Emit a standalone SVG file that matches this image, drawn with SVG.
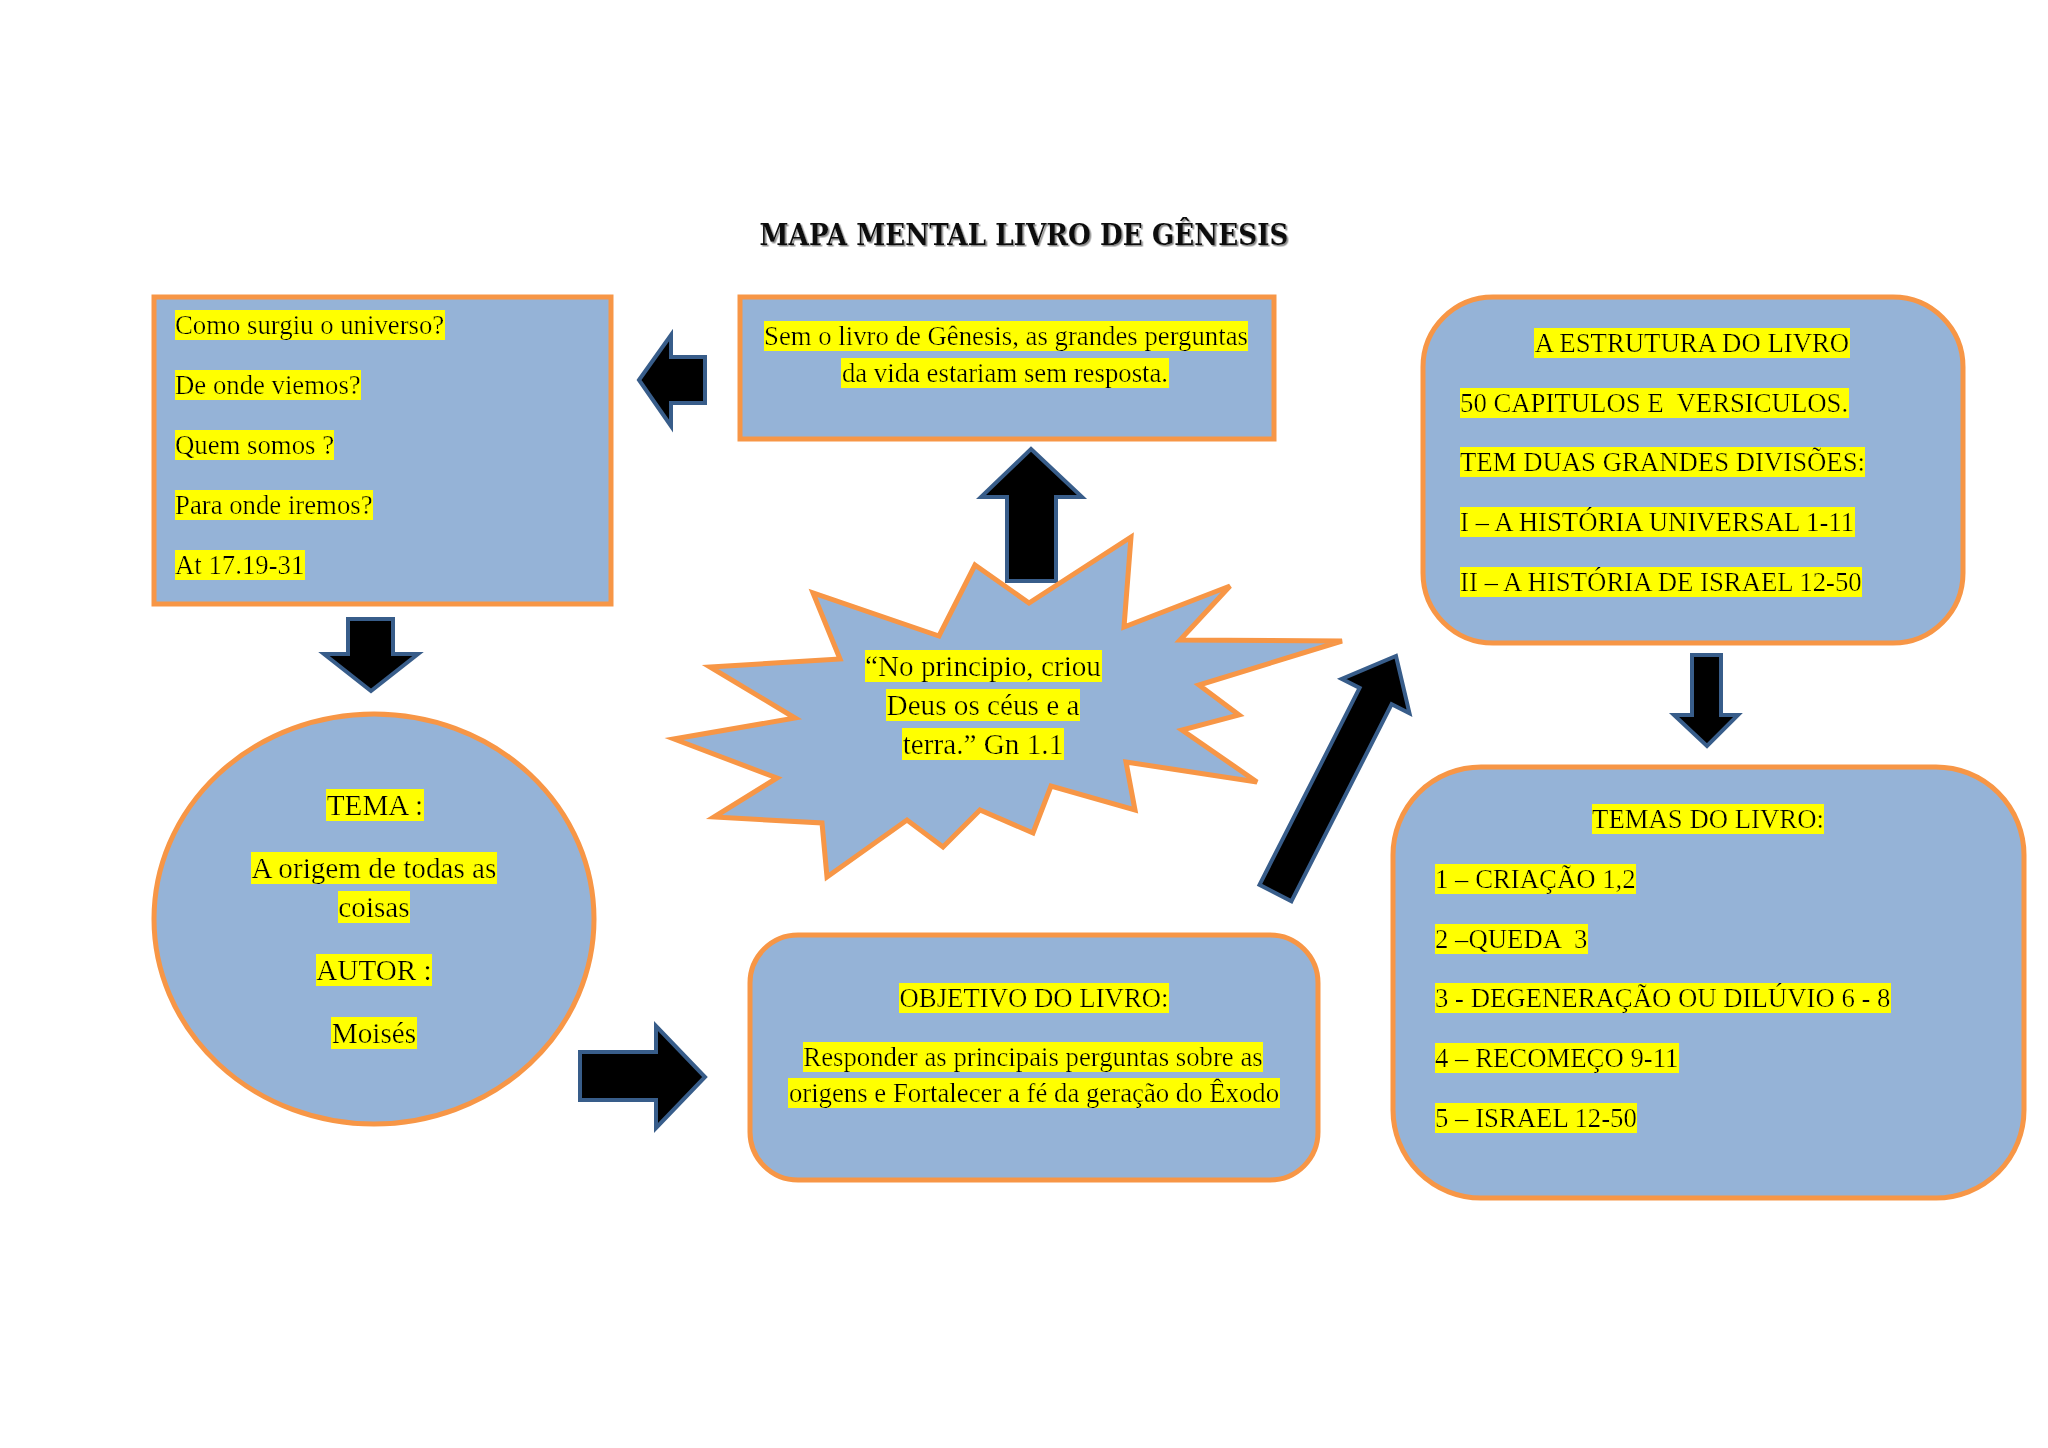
<svg xmlns="http://www.w3.org/2000/svg" width="2048" height="1448" viewBox="0 0 2048 1448">
<defs>
<style>
.node{fill:#95B3D7;stroke:#F79646;stroke-width:5}
.arrow{fill:#000;stroke:#385D8A;stroke-width:4;stroke-linejoin:miter}
.t{font-family:"Liberation Serif","Times New Roman",serif;font-size:26.75px;fill:#000;white-space:pre;filter:url(#hl)}
.b{font-size:29.2px}
.c{text-anchor:middle}
.title{font-family:"DejaVu Serif","Liberation Serif",serif;font-weight:bold;font-size:30px;fill:#111;filter:url(#sh)}
</style>
<filter id="hl" x="0" y="0" width="1" height="1"><feFlood flood-color="#FFFF00"/><feMerge><feMergeNode/><feMergeNode in="SourceGraphic"/></feMerge></filter>
<filter id="sh" x="-5%" y="-20%" width="110%" height="150%"><feDropShadow dx="1.5" dy="1.5" stdDeviation="0.6" flood-color="#8a8a8a"/></filter>
</defs>
<rect width="2048" height="1448" fill="#ffffff"/>
<text class="title" x="1024" y="245" text-anchor="middle" textLength="529" lengthAdjust="spacingAndGlyphs">MAPA MENTAL LIVRO DE GÊNESIS</text>

<g id="connectors">
<polygon id="arrow-left" class="arrow" points="639,380 671,335 671,357 705,357 705,403 671,403 671,426"/>
<polygon id="arrow-up" class="arrow" points="1031,449 1082,497 1056,497 1056,581 1007,581 1007,497 981,497"/>
<polygon id="arrow-down-left" class="arrow" points="348,619 393,619 393,654 418,654 371,691 324,654 348,654"/>
<polygon id="arrow-right" class="arrow" points="580,1052 656,1052 656,1026 705,1077 656,1128 656,1100 580,1100"/>
<polygon id="arrow-down-right" class="arrow" points="1692,655 1721,655 1721,715 1738,715 1707,746 1674,715 1692,715"/>
<polygon id="arrow-diagonal" class="arrow" points="1291.5,901.2 1391.6,704.3 1409.5,713.3 1396,656 1341.7,678.9 1359.6,688 1259.5,884.8"/>
</g>

<g id="box-perguntas">
<rect class="node" x="154" y="297" width="457" height="307"/>
<text class="t" x="175" y="334">Como surgiu o universo?</text>
<text class="t" x="175" y="394">De onde viemos?</text>
<text class="t" x="175" y="454">Quem somos ?</text>
<text class="t" x="175" y="514">Para onde iremos?</text>
<text class="t" x="175" y="574">At 17.19-31</text>
</g>

<g id="box-sem-genesis">
<rect class="node" x="740" y="297" width="534" height="142"/>
<text class="t c" x="1006" y="345">Sem o livro de Gênesis, as grandes perguntas</text>
<text class="t c" x="1005" y="382">da vida estariam sem resposta.</text>
</g>

<g id="box-estrutura">
<rect class="node" x="1423" y="297" width="540" height="346" rx="70" ry="70"/>
<text class="t c" x="1692" y="352">A ESTRUTURA DO LIVRO</text>
<text class="t" x="1460" y="412">50 CAPITULOS E  VERSICULOS.</text>
<text class="t" x="1460" y="471">TEM DUAS GRANDES DIVISÕES:</text>
<text class="t" x="1460" y="531">I – A HISTÓRIA UNIVERSAL 1-11</text>
<text class="t" x="1460" y="591">II – A HISTÓRIA DE ISRAEL 12-50</text>
</g>

<g id="star-quote">
<polygon class="node" points="975,565 1029,603 1131,537 1124,627 1230,586 1180,640 1342,641 1199,685 1239,715 1182,730 1257,782 1126,762 1135,810 1051,786 1033,833 980,810 943,847 907,820 827,877 822,823 714,817 777,778 674,739 795,718 710,667 840,659 813,593 939,636"/>
<text class="t b c" x="983" y="676">“No principio, criou</text>
<text class="t b c" x="983" y="715">Deus os céus e a</text>
<text class="t b c" x="983" y="754">terra.” Gn 1.1</text>
</g>

<g id="ellipse-tema">
<ellipse class="node" cx="374" cy="919" rx="220" ry="205"/>
<text class="t b c" x="375" y="815">TEMA :</text>
<text class="t b c" x="374" y="878">A origem de todas as</text>
<text class="t b c" x="374" y="917">coisas</text>
<text class="t b c" x="374" y="980">AUTOR :</text>
<text class="t b c" x="374" y="1043">Moisés</text>
</g>

<g id="box-objetivo">
<rect class="node" x="750" y="935" width="568" height="245" rx="48" ry="48"/>
<text class="t c" x="1034" y="1007">OBJETIVO DO LIVRO:</text>
<text class="t c" x="1033" y="1066">Responder as principais perguntas sobre as</text>
<text class="t c" x="1034" y="1102">origens e Fortalecer a fé da geração do Êxodo</text>
</g>

<g id="box-temas">
<rect class="node" x="1393" y="767" width="631" height="431" rx="88" ry="88"/>
<text class="t c" x="1708" y="828">TEMAS DO LIVRO:</text>
<text class="t" x="1435" y="888">1 – CRIAÇÃO 1,2</text>
<text class="t" x="1435" y="948">2 –QUEDA  3</text>
<text class="t" x="1435" y="1007">3 - DEGENERAÇÃO OU DILÚVIO 6 - 8</text>
<text class="t" x="1435" y="1067">4 – RECOMEÇO 9-11</text>
<text class="t" x="1435" y="1127">5 – ISRAEL 12-50</text>
</g>
</svg>
